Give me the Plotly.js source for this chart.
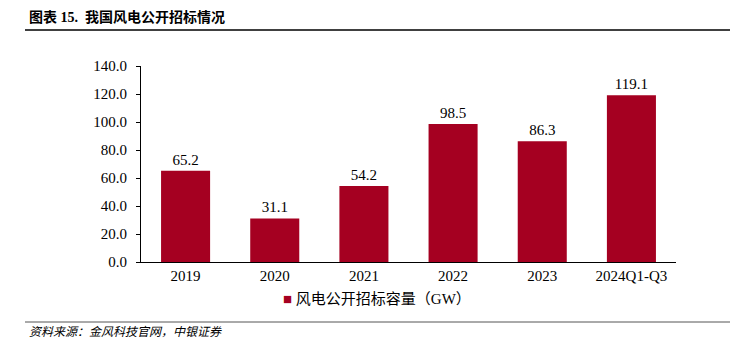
<!DOCTYPE html>
<html><head><meta charset="utf-8">
<script src="https://cdn.plot.ly/plotly-3.0.1.min.js"></script>
<style>body{margin:0;background:#fff}#c{width:730px;height:358px}</style>
</head><body><div id="c"></div>
<script>
const categories = ["2019","2020","2021","2022","2023","2024Q1-Q3"];
const capacityGW = [65.2, 31.1, 54.2, 98.5, 86.3, 119.1];
const seriesName = "风电公开招标容量（GW）";
const titleText = "图表 15.  我国风电公开招标情况";
const sourceText = "资料来源：金风科技官网，中银证券";

const serif = "Liberation Serif, Times New Roman, Noto Sans CJK SC, serif";
const barColor = "#A50021";
const L = 141, R = 676, T = 66, B = 262;
const px = x => (x - L) / (R - L);
const py = y => (B - y) / (B - T);

Plotly.newPlot("c", [{
  type: "bar",
  x: categories,
  y: capacityGW,
  name: seriesName,
  marker: {color: barColor},
  text: capacityGW.map(v => v.toFixed(1)),
  textposition: "outside",
  textfont: {family: serif, size: 15, color: "#000"},
  cliponaxis: false,
  width: 0.55
}], {
  width: 730, height: 358,
  margin: {l: L, r: 730 - R, t: T, b: 358 - B},
  paper_bgcolor: "#fff", plot_bgcolor: "#fff",
  font: {family: serif, color: "#000", size: 15},
  xaxis: {
    type: "category",
    showline: true, linecolor: "#000", linewidth: 1,
    ticks: "", tickfont: {family: serif, size: 15}, showgrid: false
  },
  yaxis: {
    range: [0, 140], dtick: 20, tickformat: ".1f",
    showline: true, linecolor: "#000", linewidth: 1,
    ticks: "outside", ticklen: 4, tickcolor: "#000",
    ticklabelstandoff: 6,
    showgrid: false, zeroline: false,
    tickfont: {family: serif, size: 15}
  },
  showlegend: false,
  shapes: [
    {type: "line", xref: "paper", yref: "paper", x0: px(25), x1: px(730), y0: py(30), y1: py(30), line: {color: "#000", width: 1.5}},
    {type: "line", xref: "paper", yref: "paper", x0: px(25), x1: px(730), y0: py(322), y1: py(322), line: {color: "#555", width: 1}}
  ],
  annotations: [
    {text: "<b>" + titleText + "</b>", xref: "paper", yref: "paper", x: px(27), y: py(17), xanchor: "left", yanchor: "middle", showarrow: false, font: {family: serif, size: 14, color: "#000"}},
    {text: "<span style='color:" + barColor + "'>■</span> " + seriesName, xref: "paper", yref: "paper", x: px(377), y: py(299), xanchor: "center", yanchor: "middle", showarrow: false, font: {family: serif, size: 15, color: "#000"}},
    {text: "<i>" + sourceText + "</i>", xref: "paper", yref: "paper", x: px(27), y: py(332), xanchor: "left", yanchor: "middle", showarrow: false, font: {family: serif, size: 12, color: "#000"}}
  ]
}, {displayModeBar: false, staticPlot: true});
</script></body></html>
